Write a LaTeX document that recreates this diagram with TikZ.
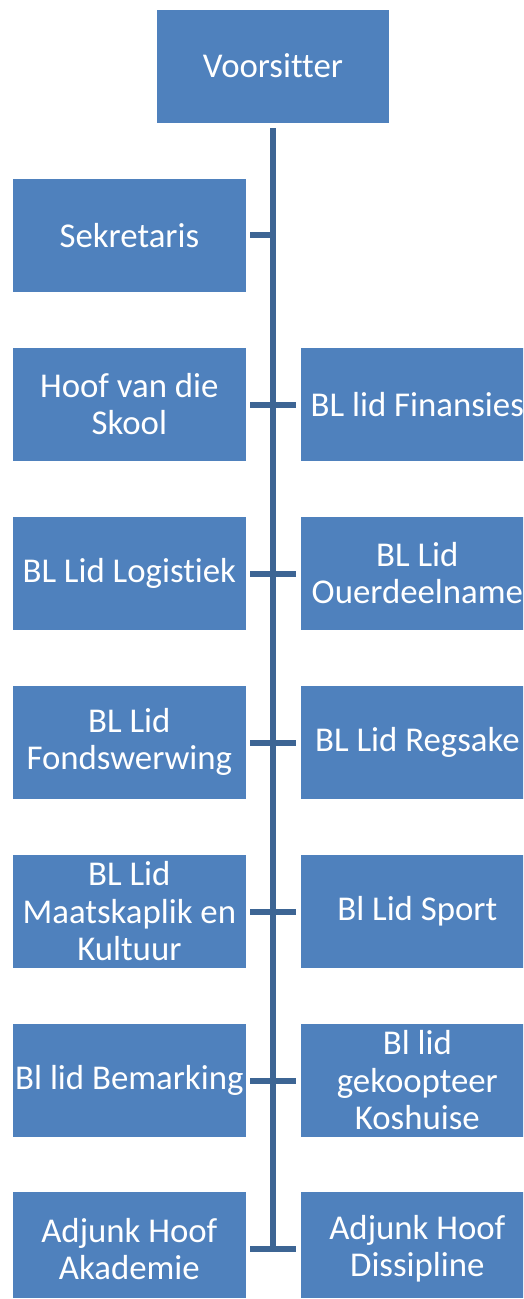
\documentclass[tikz,border=0pt]{standalone}
\usepackage{fontspec}
\setmainfont{Carlito}[Ligatures=NoCommon]
\definecolor{boxblue}{HTML}{4F81BD}
\definecolor{linecol}{HTML}{3D6594}
\tikzset{
  orgbox/.style={fill=boxblue, draw=none, minimum width=232.7pt, minimum height=113pt,
    text=white, align=center, inner sep=0pt, font=\fontsize{34.8}{37.5}\selectfont},
  spine/.style={draw=linecol, line width=6pt}
}
\begin{document}
\begin{tikzpicture}[x=1pt,y=-1pt]
\useasboundingbox (0,0) rectangle (523,1299);
\fill[white] (0,0) rectangle (523,1299);
\begin{scope}
\clip (0,0) rectangle (523,1297.3);
\node[orgbox, minimum width=232pt] (top) at (273,66) {Voorsitter};
\node[orgbox] (l1) at (129.35,235.1) {Sekretaris};
\node[orgbox] (l2) at (129.35,404.1) {Hoof van die\\Skool};
\node[orgbox] (r2) at (417.35,404.1) {BL lid Finansies};
\node[orgbox] (l3) at (129.35,573.1) {BL Lid Logistiek};
\node[orgbox] (r3) at (417.35,573.1) {BL Lid\\Ouerdeelname};
\node[orgbox] (l4) at (129.35,742.1) {BL Lid\\Fondswerwing};
\node[orgbox] (r4) at (417.35,742.1) {BL Lid Regsake};
\node[orgbox] (l5) at (129.35,911.1) {BL Lid\\Maatskaplik en\\Kultuur};
\node[orgbox] (r5) at (417.35,911.1) {Bl Lid Sport};
\node[orgbox] (l6) at (129.35,1080.1) {Bl lid Bemarking};
\node[orgbox] (r6) at (417.35,1080.1) {Bl lid\\gekoopteer\\Koshuise};
\node[orgbox] (l7) at (129.35,1248.8) {Adjunk Hoof\\Akademie};
\node[orgbox] (r7) at (417.35,1248.8) {Adjunk Hoof\\Dissipline};
\coordinate (s0) at (273,128);
\coordinate (s1) at (273,235);
\coordinate (s2) at (273,404.5);
\coordinate (s3) at (273,573.5);
\coordinate (s4) at (273,742.5);
\coordinate (s5) at (273,911.5);
\coordinate (s6) at (273,1080.5);
\coordinate (s7) at (273,1248.5);
\draw[spine] (s0) -- (s7);
\draw[spine] ([xshift=4.5pt]l1.east |- s1) -- (s1);
\foreach \i in {2,...,7}{
  \draw[spine] ([xshift=4.5pt]l\i.east |- s\i) -- (s\i) -- ([xshift=-5.3pt]r\i.west |- s\i);
}
\end{scope}
\end{tikzpicture}
\end{document}
